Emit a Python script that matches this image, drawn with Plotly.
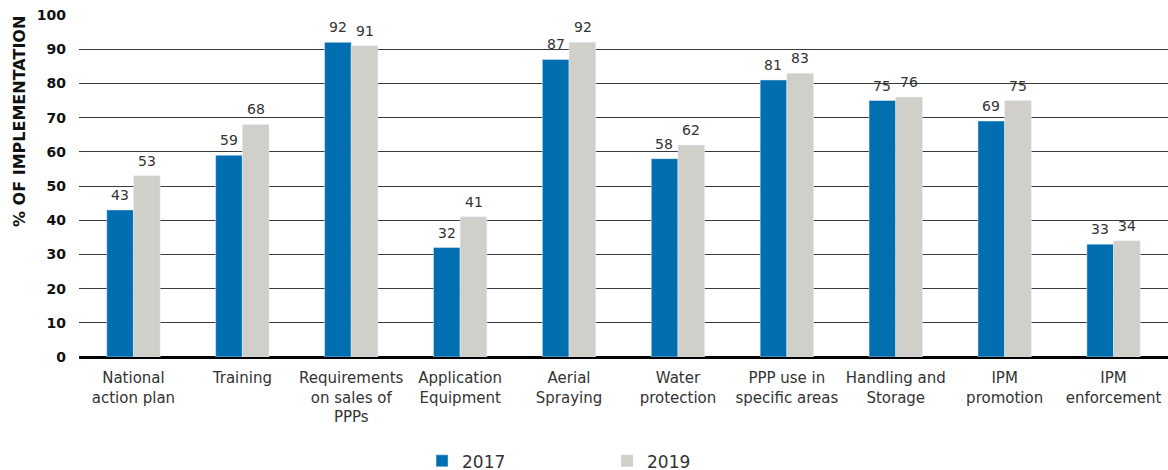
import plotly.graph_objects as go

categories = [
    "National<br>action plan",
    "Training",
    "Requirements<br>on sales of<br>PPPs",
    "Application<br>Equipment",
    "Aerial<br>Spraying",
    "Water<br>protection",
    "PPP use in<br>specific areas",
    "Handling and<br>Storage",
    "IPM<br>promotion",
    "IPM<br>enforcement",
]
values_2017 = [43, 59, 92, 32, 87, 58, 81, 75, 69, 33]
values_2019 = [53, 68, 91, 41, 92, 62, 83, 76, 75, 34]

font = "DejaVu Sans, Verdana, sans-serif"
label_font = dict(family=font, size=14, color="#333333")

fig = go.Figure()
fig.add_trace(go.Bar(x=categories, y=values_2017, name="2017", marker_color="#006EAF"))
fig.add_trace(go.Bar(x=categories, y=values_2019, name="2019", marker_color="#D0CFCA"))

# value labels above each bar (offset a bit higher than plotly's default outside text)
for cat, v17, v19 in zip(categories, values_2017, values_2019):
    for val, dx in ((v17, -13.5), (v19, 13.5)):
        fig.add_annotation(
            x=cat, y=val, text=str(val), showarrow=False,
            xshift=dx, yshift=15, yanchor="middle", font=label_font,
        )

fig.update_layout(
    width=1168, height=470,
    margin=dict(l=79, r=0, t=15, b=113, autoexpand=False),
    plot_bgcolor="white", paper_bgcolor="white",
    barmode="group", bargap=0.51, bargroupgap=0,
    font=dict(family=font, color="#333333"),
    legend=dict(
        orientation="h", x=0.315, y=-0.305, xanchor="left", yanchor="middle",
        entrywidth=140, entrywidthmode="pixels",
        font=dict(family=font, size=17, color="#333333"),
    ),
    showlegend=True,
)
fig.add_annotation(
    text="<b>% OF IMPLEMENTATION</b>", textangle=-90,
    xref="paper", yref="paper", x=(19 - 79) / 1089, y=(357 - 122) / 342,
    xanchor="center", yanchor="middle",
    showarrow=False, font=dict(family=font, size=16, color="#111111"),
)
fig.update_xaxes(
    tickfont=dict(family=font, size=15, color="#333333"),
    showline=False, ticks="", automargin=False, ticklabelstandoff=10,
)
fig.update_yaxes(
    range=[0, 100], dtick=10, automargin=False,
    showgrid=True, gridcolor="#3a3a3a", gridwidth=1,
    zeroline=True, zerolinecolor="black", zerolinewidth=3,
    tickfont=dict(family=font, size=14, color="#111111", weight="bold"),
    ticks="", ticklabelstandoff=12,
)

# drop the browser's default body margin so the figure fills the window
fig.write_html(
    "out.html",
    config={"displayModeBar": False},
    post_script="document.body.style.margin='0';",
)
